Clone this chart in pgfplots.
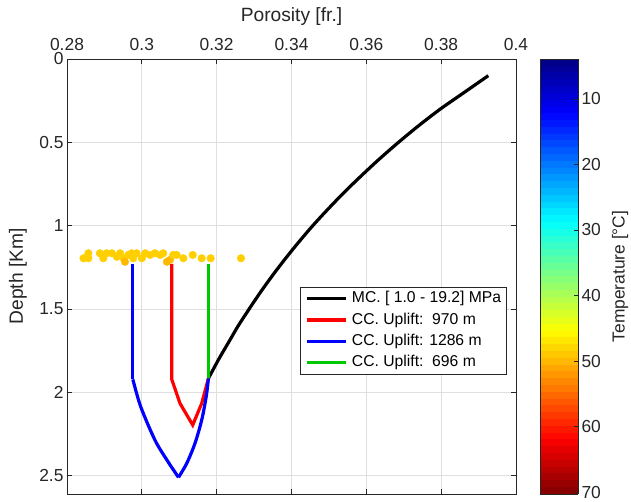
\documentclass[border=0pt]{standalone}
\usepackage{pgfplots}
\pgfplotsset{compat=1.18}
\usepackage{fontspec}
\setmainfont{Liberation Sans}
\definecolor{axgray}{HTML}{262626}
\definecolor{gridgray}{HTML}{DFDFDF}
\definecolor{mgreen}{RGB}{0,200,0}
\newcommand{\tickfont}{\fontsize{17.4}{20}\selectfont}
\newcommand{\labfont}{\fontsize{19.2}{22}\selectfont}
\newcommand{\legfont}{\fontsize{15.7}{18}\selectfont}
\begin{document}
\begin{tikzpicture}
\useasboundingbox (0pt,0pt) rectangle (631pt,501pt);
\begin{axis}[
  at={(67pt,7pt)}, anchor=south west,
  scale only axis, width=449pt, height=435pt,
  xmin=0.28, xmax=0.4, ymin=0, ymax=2.611,
  y dir=reverse,
  xtick={0.28,0.3,0.32,0.34,0.36,0.38,0.4},
  ytick={0,0.5,1,1.5,2,2.5},
  xticklabels={0.28,0.3,0.32,0.34,0.36,0.38,0.4},
  yticklabels={0,0.5,1,1.5,2,2.5},
  xticklabel pos=upper,
  xticklabel style={yshift=5pt},
  tick pos=both,
  tick align=inside,
  major tick length=5pt,
  grid=major,
  major grid style={draw=gridgray, line width=0.8pt},
  axis line style={draw=axgray, line width=0.8pt},
  tick style={draw=axgray, line width=0.8pt},
  tick label style={font=\tickfont, text=axgray},
  /pgf/number format/assume math mode=true,
  xlabel={Porosity [fr.]},
  ylabel={Depth [Km]},
  every axis x label/.style={at={(axis description cs:0.5,1)}, anchor=center, yshift=42pt, font=\labfont, text=axgray},
  every axis y label/.style={at={(axis description cs:0,0.5)}, anchor=center, xshift=-49pt, rotate=90, font=\labfont, text=axgray},
  colormap/jet,
  point meta min=3.9, point meta max=70.3,
  colorbar sampled,
  colorbar shift/.style={},
  colorbar style={
    samples=65,
    at={(parent axis.north east)}, anchor=north west, xshift=24pt,
    width=38pt,
    y dir=reverse,
    ytick={10,20,30,40,50,60,70},
    yticklabels={10,20,30,40,50,60,70},
    yticklabel pos=right,
    ytick pos=right,
    tick align=inside,
    major tick length=4pt,
    axis line style={draw=axgray, line width=0.8pt},
    tick style={draw=axgray, line width=0.8pt},
    yticklabel style={font=\tickfont, text=axgray},
    /pgf/number format/assume math mode=true,
    ylabel={Temperature [°C]},
    every axis y label/.style={at={(axis description cs:1,0.5)}, anchor=center, xshift=42pt, rotate=90, font=\tickfont, text=axgray},
  },
  legend style={at={(0.979,0.476)}, anchor=north east, draw=axgray, line width=0.8pt, fill=white,
    font=\legfont, inner xsep=5pt, inner ysep=4pt, row sep=6.2pt,
    nodes={inner sep=0pt, text height=11.5pt, text depth=3.5pt},
    /tikz/every odd column/.append style={column sep=4pt}},
  legend cell align=left,
  legend image code/.code={\draw[#1, line width=3.2pt] (0pt,0pt) -- (39pt,0pt);},
]
% MC curve
\addplot[black, line width=3.2pt, smooth, tension=0.5] coordinates {
(0.3926,0.100) (0.3862,0.200) (0.3798,0.300) (0.3740,0.400) (0.3686,0.500)
(0.3635,0.600) (0.3587,0.700) (0.3541,0.800) (0.3498,0.900) (0.3457,1.000)
(0.3419,1.100) (0.3383,1.200) (0.3349,1.300) (0.3317,1.400) (0.3287,1.500)
(0.3258,1.600) (0.3232,1.700) (0.3206,1.800) (0.3178,1.917)
};
\addlegendentry{MC. [ 1.0 - 19.2] MPa}
% CC uplift 970 m
\addplot[red, line width=3.2pt] coordinates {
(0.3080,1.230) (0.3080,1.923) (0.3102,2.067) (0.3136,2.197) (0.3160,2.067) (0.3178,1.917)
};
\addlegendentry{CC. Uplift:\ \ 970 m}
% CC uplift 1286 m
\addplot[blue, line width=3.2pt] coordinates {
(0.2976,1.230) (0.2976,1.923)
};
\addlegendentry{CC. Uplift: 1286 m}
\addplot[blue, line width=3.2pt, smooth, tension=0.5, forget plot] coordinates {
(0.2976,1.923) (0.2997,2.087) (0.3035,2.287) (0.3067,2.407) (0.3098,2.511)
};
\addplot[blue, line width=3.2pt, smooth, tension=0.5, forget plot] coordinates {
(0.3098,2.511) (0.3120,2.427) (0.3142,2.307) (0.3160,2.167) (0.3172,2.027) (0.3178,1.917)
};
% CC uplift 696 m
\addplot[mgreen, line width=3.2pt] coordinates {
(0.3178,1.230) (0.3178,1.917)
};
\addlegendentry{CC. Uplift:\ \ 696 m}
% samples coloured by temperature
\addplot[scatter, only marks, mark=*, mark size=3.8pt, forget plot,
  scatter/use mapped color={draw=mapped color, fill=mapped color},
  point meta=explicit] table[meta=t] {
x y t
0.2844 1.196 48.5
0.2857 1.166 48.5
0.2857 1.196 48.5
0.2888 1.166 48.5
0.2897 1.196 48.5
0.2906 1.166 48.5
0.2920 1.166 48.5
0.2933 1.187 48.5
0.2942 1.166 48.5
0.2951 1.196 48.5
0.2955 1.217 50
0.2964 1.176 48.5
0.2973 1.166 48.5
0.2977 1.196 48.5
0.2986 1.166 48.5
0.3000 1.196 48.5
0.3009 1.166 48.5
0.3022 1.176 48.5
0.3035 1.166 48.5
0.3049 1.176 48.5
0.3057 1.166 48.5
0.3067 1.217 50
0.3075 1.206 50
0.3084 1.176 48.5
0.3093 1.176 48.5
0.3111 1.196 48.5
0.3136 1.176 48.5
0.3160 1.196 48.5
0.3184 1.196 48.5
0.3265 1.196 48.5
};
\end{axis}
\end{tikzpicture}
\end{document}
